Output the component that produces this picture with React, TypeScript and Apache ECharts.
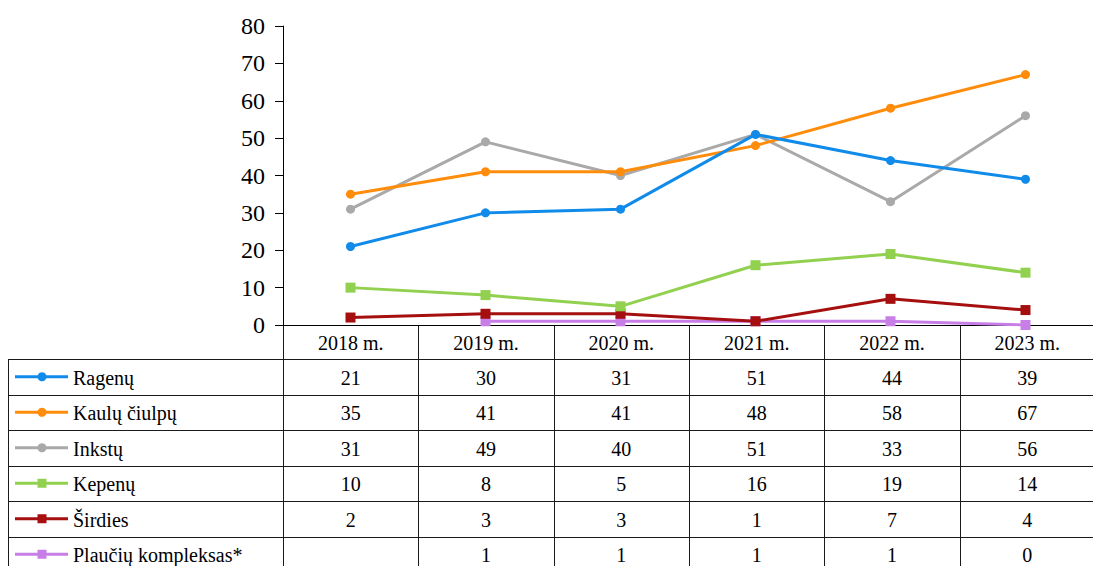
import React, { useEffect, useRef } from "react";
import * as echarts from "echarts";

const categories = ["2018 m.", "2019 m.", "2020 m.", "2021 m.", "2022 m.", "2023 m."];
const seriesNames = ["Ragenų", "Kaulų čiulpų", "Inkstų", "Kepenų", "Širdies", "Plaučių kompleksas*"];
const ragenu = [21, 30, 31, 51, 44, 39];
const kauluCiulpu = [35, 41, 41, 48, 58, 67];
const inkstu = [31, 49, 40, 51, 33, 56];
const kepenu = [10, 8, 5, 16, 19, 14];
const sirdies = [2, 3, 3, 1, 7, 4];
const plauciuKompleksas: (number | null)[] = [null, 1, 1, 1, 1, 0];
const seriesData = [ragenu, kauluCiulpu, inkstu, kepenu, sirdies, plauciuKompleksas];
const seriesColors = ["#118BEA", "#FF8C0A", "#A9A9A9", "#92D050", "#A50F0F", "#C77EE6"];
const seriesSymbols = ["circle", "circle", "circle", "rect", "rect", "rect"];
const yTicks = { min: 0, max: 80, interval: 10 };

const W = 1093;
const H = 566;
const FONT = "Liberation Serif, Times New Roman, serif";

export default function App() {
  const ref = useRef<HTMLDivElement>(null);
  useEffect(() => {
    if (!ref.current) return;
    const chart = echarts.init(ref.current, undefined, { renderer: "svg", width: W, height: H });

    const gridLeft = 283;
    const gridTop = 26;
    const gridBottomY = 325;
    const gridWidth = 812;
    const colW = gridWidth / categories.length;
    const headerBottom = 359;
    const rowH = 35.5;
    const tableLeft = 8;
    const tableRight = gridLeft + gridWidth;
    const lineColor = "#1a1a1a";

    const txt = (text: string, x: number, y: number, align: string) => ({
      type: "text",
      x,
      y,
      style: {
        text,
        fontSize: 20,
        fontFamily: FONT,
        fill: "#000",
        textAlign: align,
        textVerticalAlign: "middle",
        align,
        verticalAlign: "middle",
      },
      silent: true,
    });

    const graphics: any[] = [];
    for (let i = 0; i <= categories.length; i++) {
      const x = Math.round(gridLeft + i * colW) + 0.5;
      graphics.push({
        type: "line",
        shape: { x1: x, y1: gridBottomY, x2: x, y2: H + 10 },
        style: { stroke: lineColor, lineWidth: 1 },
        silent: true,
      });
    }
    graphics.push({
      type: "line",
      shape: { x1: tableLeft + 0.5, y1: headerBottom, x2: tableLeft + 0.5, y2: H + 10 },
      style: { stroke: lineColor, lineWidth: 1 },
      silent: true,
    });
    for (let r = 0; r <= seriesNames.length; r++) {
      const y = Math.round(headerBottom + r * rowH) + 0.5;
      graphics.push({
        type: "line",
        shape: { x1: tableLeft, y1: y, x2: tableRight, y2: y },
        style: { stroke: lineColor, lineWidth: 1 },
        silent: true,
      });
    }
    categories.forEach((c, i) => {
      graphics.push(txt(c, gridLeft + (i + 0.5) * colW, (gridBottomY + headerBottom) / 2 + 1, "center"));
    });
    seriesNames.forEach((name, r) => {
      const cy = headerBottom + (r + 0.5) * rowH + 1;
      const color = seriesColors[r];
      graphics.push({
        type: "line",
        shape: { x1: 15, y1: cy - 1, x2: 68, y2: cy - 1 },
        style: { stroke: color, lineWidth: 3 },
        silent: true,
      });
      if (seriesSymbols[r] === "circle") {
        graphics.push({
          type: "circle",
          shape: { cx: 42, cy: cy - 1, r: 4.5 },
          style: { fill: color },
          silent: true,
        });
      } else {
        graphics.push({
          type: "rect",
          shape: { x: 37.5, y: cy - 5.5, width: 9, height: 9 },
          style: { fill: color },
          silent: true,
        });
      }
      graphics.push(txt(name, 73, cy, "left"));
      seriesData[r].forEach((v, i) => {
        if (v === null || v === undefined) return;
        graphics.push(txt(String(v), gridLeft + (i + 0.5) * colW, cy, "center"));
      });
    });

    chart.setOption({
      animation: false,
      backgroundColor: "#ffffff",
      textStyle: { fontFamily: FONT },
      grid: {
        left: gridLeft,
        top: gridTop,
        width: gridWidth,
        height: gridBottomY - gridTop,
        containLabel: false,
      },
      xAxis: {
        type: "category",
        data: categories,
        boundaryGap: true,
        axisLine: { show: true, lineStyle: { color: "#000", width: 1 } },
        axisTick: { show: false },
        axisLabel: { show: false },
        splitLine: { show: false },
      },
      yAxis: {
        type: "value",
        min: yTicks.min,
        max: yTicks.max,
        interval: yTicks.interval,
        axisLine: { show: true, lineStyle: { color: "#000", width: 1 } },
        axisTick: { show: true, length: 8, lineStyle: { color: "#000" } },
        axisLabel: {
          fontSize: 24,
          fontFamily: FONT,
          color: "#000",
          margin: 18,
        },
        splitLine: { show: false },
      },
      series: seriesNames.map((name, r) => ({
        name,
        type: "line",
        data: seriesData[r],
        symbol: seriesSymbols[r],
        symbolSize: seriesSymbols[r] === "circle" ? 9 : 10,
        showSymbol: true,
        connectNulls: false,
        lineStyle: { color: seriesColors[r], width: 3 },
        itemStyle: { color: seriesColors[r] },
        z: 10 - r,
      })),
      graphic: graphics,
    });
    return () => chart.dispose();
  }, []);
  return (
    <div
      ref={ref}
      style={{ position: "absolute", left: 0, top: 0, width: W, height: H, overflow: "hidden", background: "#fff" }}
    />
  );
}
